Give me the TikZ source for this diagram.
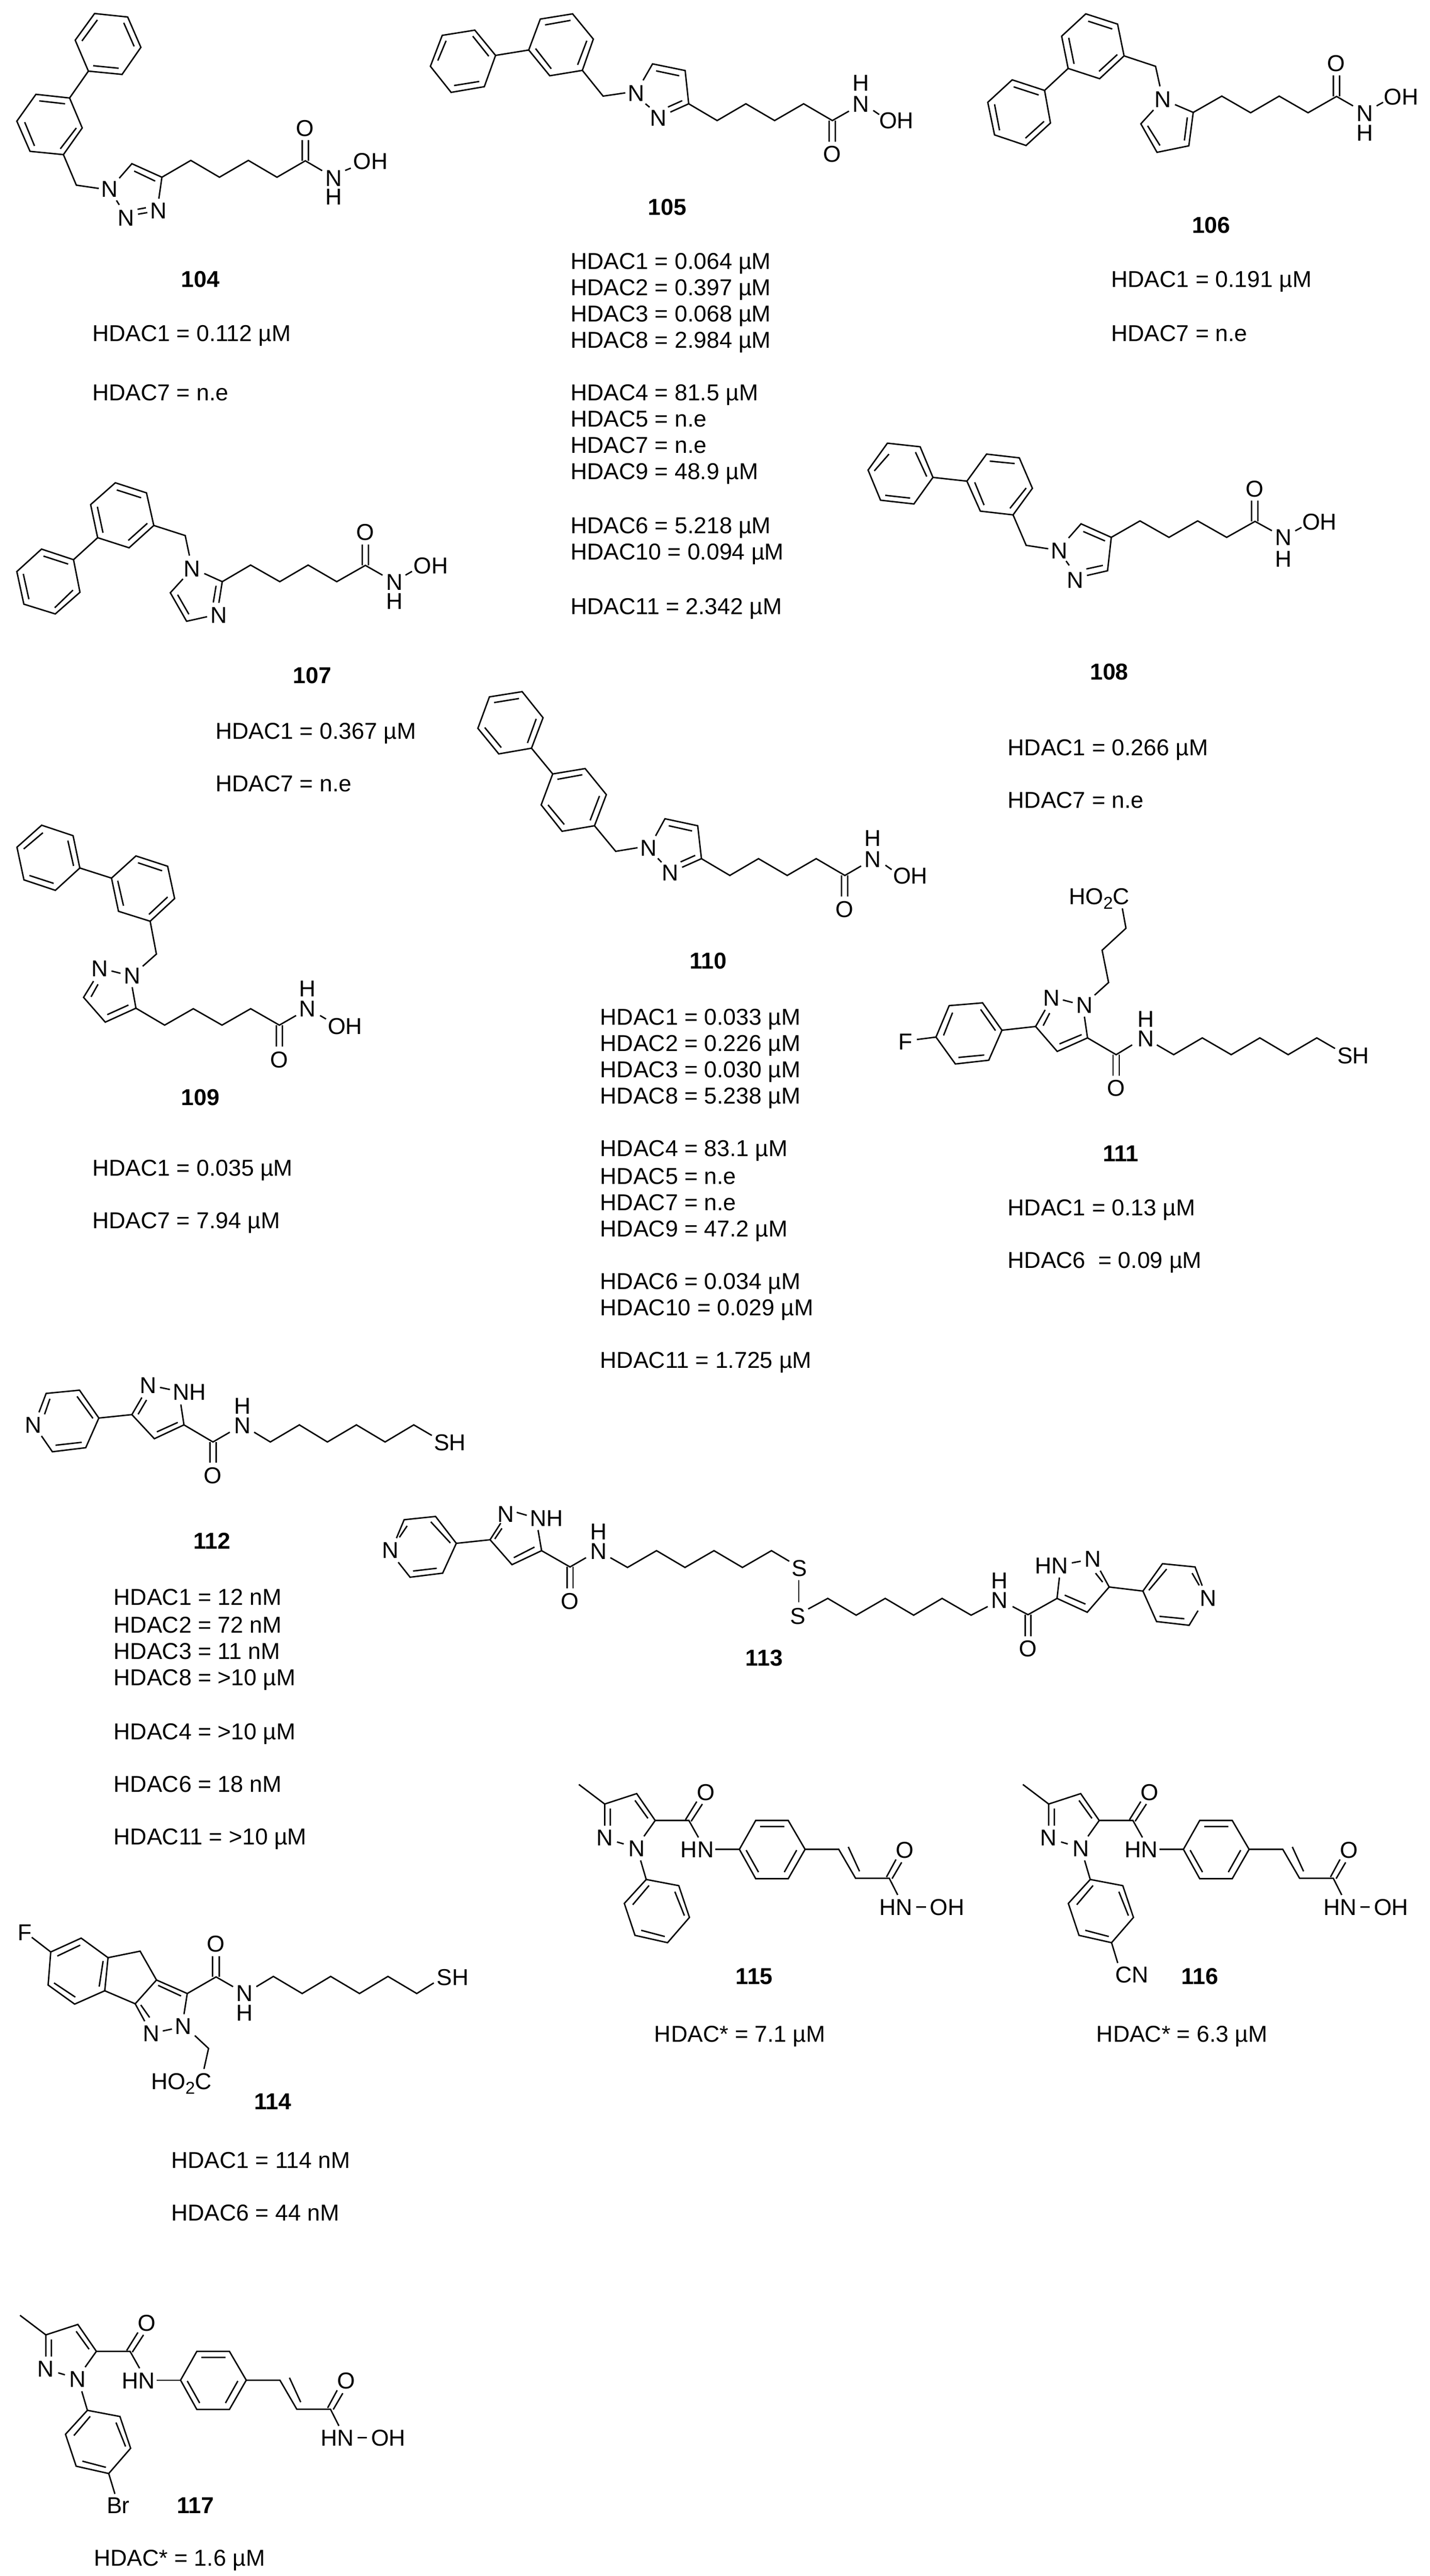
\documentclass[tikz,border=0pt]{standalone}
\usepackage{fontspec}
\setmainfont{Liberation Sans}
\tikzset{
  mol/.style n args={4}{shift={(#1pt,#2pt)},x=#3pt,y=#4pt},
  bond/.style={line width=.72pt,line join=miter,line cap=butt},
  lab/.style={inner sep=0pt,font=\fontsize{11.75}{14}\selectfont},
  txt/.style={inner sep=0pt,anchor=base west,font=\fontsize{11.75}{14}\selectfont},
  num/.style={inner sep=0pt,font=\fontsize{11.75}{14}\selectfont\bfseries}
}
\newcommand{\acid}{HO{\fontsize{8.8}{9}\selectfont\raisebox{-2.4pt}{2}}C}
\newcommand{\ttl}[4]{\node[txt] (#1) at (#2,#3+4.8) {#4};}
% 1-aryl-pyrazole cinnamyl hydroxamate fragment (compounds 115-117)
\newcommand{\cinnam}[1]{%
  \draw[bond] (47,152)--(93,272)--(150,208)--(183,373)--(163,470);
  \draw[bond] (147,250)--(170,360);
  \draw[bond] (93,272)--(93,405) (103,300)--(103,405) (115,505)--(127,517);
  \draw[bond] (183,373)--(243,373)--(260,477);
  \draw[bond] (237,368)--(257,257) (247,378)--(267,272);
  \draw[bond] (290,550)--(333,550);
  \draw[bond] (333,550)--(362,373)--(420,373)--(450,550)--(420,730)--(362,730)--cycle;
  \draw[bond] (370,410)--(413,410) (345,555)--(367,690) (435,555)--(413,690);
  \draw[bond] (450,550)--(510,550)--(540,728)--(600,728)--(615,830);
  \draw[bond] (527,535)--(547,685);
  \draw[bond] (595,720)--(612,612) (605,730)--(622,630);
  \draw[bond] (648,903)--(665,903);
  \draw[bond] (157,618)--(167,735);
  \draw[bond] (167,735)--(225,773)--(244,968)--(205,1123)--(147,1078)--(128,882)--cycle;
  \draw[bond] (172,772)--(143,890) (218,810)--(235,957) (200,1085)--(158,1047);
  \node[lab] (#1N2) at (93,480) {N};
  \node[lab] (#1N1) at (150,545) {N};
  \node[lab] (#1O1) at (273,200) {O};
  \node[lab] (#1HN1) at (258,553) {HN};
  \node[lab] (#1O2) at (628,555) {O};
  \node[lab] (#1HN2) at (612,905) {HN};
  \node[lab] (#1OH) at (703,905) {OH};
}
\begin{document}
\begin{tikzpicture}[x=1pt,y=1pt]
\useasboundingbox (0,0) rectangle (731pt,-1317.5pt);
\fill[white] (0,0) rectangle (731pt,-1317.5pt);

% ---------- 104
\begin{scope}[mol={0}{0}{.14349}{-.09885}]
\draw[bond] (337,70)--(455,88)--(502,245)--(435,385)--(315,368)--(268,208)--cycle;
\draw[bond] (347,103)--(292,212) (441,118)--(478,240) (423,353)--(332,340);
\draw[bond] (315,368)--(248,507);
\draw[bond] (248,507)--(293,662)--(226,800)--(107,783)--(60,627)--(128,488)--cycle;
\draw[bond] (232,537)--(140,522) (272,662)--(215,770) (88,632)--(123,755);
\draw[bond] (226,800)--(272,958)--(352,975);
\draw[bond] (425,922)--(470,847)--(577,917)--(566,1028);
\draw[bond] (478,885)--(553,937) (415,1037)--(425,1060);
\draw[bond] (490,1083)--(520,1075) (492,1108)--(525,1100);
\draw[bond] (577,917)--(680,830)--(782,917)--(885,830)--(987,917)--(1088,832)--(1148,883);
\draw[bond] (1077,832)--(1077,725) (1099,832)--(1099,725) (1230,882)--(1250,870);
\node[lab] (aN1) at (390,978) {N};
\node[lab] (aN2) at (450,1128) {N};
\node[lab] (aN3) at (565,1090) {N};
\node[lab] (aO) at (1087,665) {O};
\node[lab] (aN) at (1190,922) {N};
\node[lab] (aH) at (1190,1020) {H};
\node[lab] (aOH) at (1320,835) {OH};
\end{scope}

% ---------- 105
\begin{scope}[mol={212.5}{0}{.15147}{-.08333}]
\draw[bond] (200,185)--(270,340)--(232,532)--(120,567)--(50,407)--(90,217)--cycle;
\draw[bond] (193,222)--(247,345) (215,500)--(130,525) (75,372)--(103,250);
\draw[bond] (270,340)--(382,307);
\draw[bond] (382,307)--(453,465)--(563,432)--(600,240)--(530,85)--(421,117)--cycle;
\draw[bond] (405,298)--(458,422) (547,398)--(578,250) (437,153)--(523,125);
\draw[bond] (563,432)--(633,590)--(708,570);
\draw[bond] (768,493)--(800,392)--(910,433)--(922,637)--(860,688);
\draw[bond] (812,435)--(890,465) (900,618)--(852,657) (776,637)--(790,658);
\draw[bond] (922,637)--(1018,740)--(1115,637)--(1212,740)--(1310,637)--(1407,740)--(1463,682);
\draw[bond] (1396,740)--(1396,870) (1417,740)--(1417,870) (1545,678)--(1565,703);
\node[lab] (bN1) at (745,572) {N};
\node[lab] (bN2) at (820,725) {N};
\node[lab] (bO) at (1407,947) {O};
\node[lab] (bN) at (1503,640) {N};
\node[lab] (bH) at (1503,510) {H};
\node[lab] (bOH) at (1623,740) {OH};
\end{scope}

% ---------- 106
\begin{scope}[mol={495}{0}{.15051}{-.08333}]
\draw[bond] (150,490)--(260,555)--(280,755)--(197,893)--(90,828)--(67,628)--cycle;
\draw[bond] (155,533)--(240,583) (258,745)--(195,848) (107,800)--(90,640);
\draw[bond] (260,555)--(340,420);
\draw[bond] (340,420)--(447,483)--(530,343)--(508,148)--(400,85)--(318,222)--cycle;
\draw[bond] (445,438)--(507,335) (490,178)--(408,130) (342,232)--(360,392);
\draw[bond] (530,343)--(637,407)--(652,530);
\draw[bond] (703,642)--(765,690)--(750,895)--(642,935)--(587,760)--(630,675);
\draw[bond] (745,720)--(735,862) (652,893)--(610,772);
\draw[bond] (765,690)--(862,590)--(960,692)--(1057,590)--(1155,692)--(1252,592)--(1308,650);
\draw[bond] (1241,592)--(1241,463) (1262,592)--(1262,463) (1388,650)--(1410,628);
\node[lab] (cN1) at (662,610) {N};
\node[lab] (cO) at (1251,388) {O};
\node[lab] (cN) at (1348,695) {N};
\node[lab] (cH) at (1348,815) {H};
\node[lab] (cOH) at (1472,595) {OH};
\end{scope}

% ---------- 107
\begin{scope}[mol={0}{-237.5}{.14349}{-.08333}]
\draw[bond] (148,520)--(262,585)--(285,785)--(197,918)--(85,858)--(60,658)--cycle;
\draw[bond] (155,563)--(243,612) (260,772)--(195,880) (103,828)--(83,672);
\draw[bond] (262,585)--(348,450);
\draw[bond] (348,450)--(460,512)--(548,375)--(522,175)--(411,113)--(323,247)--cycle;
\draw[bond] (457,467)--(525,362) (503,205)--(416,157) (347,260)--(367,420);
\draw[bond] (548,375)--(660,437)--(675,560);
\draw[bond] (728,670)--(792,720)--(780,850) (770,745)--(760,848);
\draw[bond] (738,935)--(665,963)--(607,788)--(652,703) (673,920)--(633,800);
\draw[bond] (792,720)--(893,618)--(997,720)--(1098,618)--(1200,720)--(1302,620)--(1363,680);
\draw[bond] (1291,620)--(1291,492) (1313,620)--(1313,492) (1445,680)--(1468,657);
\node[lab] (dN1) at (685,640) {N};
\node[lab] (dN3) at (780,925) {N};
\node[lab] (dO) at (1302,417) {O};
\node[lab] (dN) at (1405,725) {N};
\node[lab] (dH) at (1405,840) {H};
\node[lab] (dOH) at (1535,622) {OH};
\end{scope}

% ---------- 108
\begin{scope}[mol={437.5}{-212.5}{.15944}{-.08333}]
\draw[bond] (102,170)--(207,192)--(248,380)--(187,543)--(80,520)--(40,335)--cycle;
\draw[bond] (192,225)--(228,375) (175,507)--(95,490) (60,340)--(107,237);
\draw[bond] (248,380)--(357,403);
\draw[bond] (357,403)--(400,587)--(505,610)--(567,447)--(525,260)--(420,237)--cycle;
\draw[bond] (382,410)--(412,550) (495,570)--(547,445) (510,295)--(430,280);
\draw[bond] (505,610)--(547,797)--(618,818);
\draw[bond] (683,752)--(723,665)--(820,748)--(808,953)--(742,982);
\draw[bond] (730,712)--(800,770) (793,920)--(740,942) (675,893)--(685,920);
\draw[bond] (820,748)--(912,647)--(1005,748)--(1097,647)--(1190,748)--(1281,650)--(1335,707);
\draw[bond] (1270,650)--(1270,522) (1290,650)--(1290,522) (1410,708)--(1430,687);
\node[lab] (eN1) at (653,830) {N};
\node[lab] (eN2) at (705,1012) {N};
\node[lab] (eO) at (1280,450) {O};
\node[lab] (eN) at (1372,750) {N};
\node[lab] (eH) at (1372,880) {H};
\node[lab] (eOH) at (1488,652) {OH};
\end{scope}

% ---------- 109
\begin{scope}[mol={0}{-412.5}{.12755}{-.08929}]
\draw[bond] (167,107)--(293,167)--(320,352)--(222,480)--(96,420)--(68,233)--cycle;
\draw[bond] (172,150)--(95,243) (272,195)--(295,340) (215,440)--(118,395);
\draw[bond] (320,352)--(447,410);
\draw[bond] (447,410)--(475,600)--(602,657)--(700,527)--(672,342)--(545,283)--cycle;
\draw[bond] (472,425)--(495,568) (597,618)--(672,518) (650,368)--(553,322);
\draw[bond] (602,657)--(627,845)--(572,915);
\draw[bond] (530,1035)--(545,1155)--(422,1235)--(335,1093)--(375,1000);
\draw[bond] (515,1137)--(430,1192) (365,1090)--(393,1018) (447,942)--(483,955);
\draw[bond] (545,1155)--(660,1252)--(775,1158)--(890,1252)--(1005,1158)--(1120,1252)--(1187,1197);
\draw[bond] (1108,1252)--(1108,1375) (1132,1252)--(1132,1375) (1283,1197)--(1307,1217);
\node[lab] (fN1) at (530,970) {N};
\node[lab] (fN2) at (400,930) {N};
\node[lab] (fO) at (1120,1450) {O};
\node[lab] (fN) at (1233,1160) {N};
\node[lab] (fH) at (1233,1045) {H};
\node[lab] (fOH) at (1383,1258) {OH};
\end{scope}

% ---------- 110
\begin{scope}[mol={237.5}{-345}{.15944}{-.08333}]
\draw[bond] (185,105)--(252,265)--(215,452)--(110,487)--(43,330)--(80,137)--cycle;
\draw[bond] (175,147)--(95,172) (230,272)--(202,420) (118,448)--(65,325);
\draw[bond] (215,452)--(283,610);
\draw[bond] (283,610)--(387,577)--(455,737)--(417,928)--(313,962)--(246,800)--cycle;
\draw[bond] (378,615)--(298,643) (433,745)--(403,895) (320,920)--(268,800);
\draw[bond] (417,928)--(485,1085)--(555,1063);
\draw[bond] (613,990)--(643,885)--(748,928)--(760,1130)--(698,1183);
\draw[bond] (655,928)--(730,960) (740,1110)--(693,1150) (620,1128)--(632,1152);
\draw[bond] (760,1130)--(851,1233)--(943,1130)--(1035,1233)--(1128,1130)--(1220,1233)--(1272,1175);
\draw[bond] (1209,1233)--(1209,1362) (1229,1233)--(1229,1362) (1350,1170)--(1370,1197);
\node[lab] (gN1) at (590,1065) {N};
\node[lab] (gN2) at (660,1218) {N};
\node[lab] (gO) at (1219,1442) {O};
\node[lab] (gN) at (1310,1135) {N};
\node[lab] (gH) at (1310,1005) {H};
\node[lab] (gOH) at (1430,1237) {OH};
\end{scope}

% ---------- 111
\begin{scope}[mol={487.5}{-442.5}{.14349}{-.08333}]
\draw[bond] (173,1013)--(104,845)--(-15,862)--(-62,1055)--(7,1220)--(126,1197)--cycle;
\draw[bond] (97,885)--(150,1015) (110,1165)--(18,1180) (-35,1045)--(-3,905);
\draw[bond] (-62,1055)--(-130,1070);
\draw[bond] (173,1013)--(293,990);
\draw[bond] (602,265)--(615,387)--(530,522)--(553,720)--(503,798);
\draw[bond] (467,930)--(478,1060)--(370,1143)--(293,990)--(327,888);
\draw[bond] (457,1040)--(378,1097) (320,985)--(343,908) (390,827)--(425,843);
\draw[bond] (478,1060)--(580,1163)--(637,1103);
\draw[bond] (569,1163)--(569,1291) (591,1163)--(591,1291);
\draw[bond] (725,1103)--(785,1163)--(887,1060)--(990,1163)--(1092,1060)--(1193,1163)--(1295,1060)--(1360,1125);
\node[lab,anchor=base west] (hAcid) at (410,240) {\acid};
\node[lab] (hN1) at (467,860) {N};
\node[lab] (hN2) at (350,815) {N};
\node[lab] (hN) at (685,1065) {N};
\node[lab] (hH) at (685,945) {H};
\node[lab] (hO) at (580,1368) {O};
\node[lab] (hSH) at (1425,1170) {SH};
\node[lab] (hF) at (-171,1083) {F};
\end{scope}

% ---------- 112
\begin{scope}[mol={0}{-690}{.15944}{-.08333}]
\draw[bond] (125,388)--(148,272)--(255,252)--(317,423)--(275,605)--(168,630)--(133,533);
\draw[bond] (298,425)--(247,290) (262,572)--(178,590) (143,400)--(160,305);
\draw[bond] (317,423)--(423,402);
\draw[bond] (455,297)--(423,402)--(495,550)--(590,465)--(580,340);
\draw[bond] (503,508)--(570,450) (443,400)--(470,312) (513,235)--(545,248);
\draw[bond] (590,465)--(683,570)--(737,510);
\draw[bond] (673,570)--(673,698) (693,570)--(693,698);
\draw[bond] (815,510)--(867,570)--(960,465)--(1050,570)--(1143,465)--(1235,570)--(1327,465)--(1385,530);
\node[lab] (iNp) at (107,465) {N};
\node[lab] (iN2) at (476,222) {N};
\node[lab] (iNH) at (607,265) {NH};
\node[lab] (iN) at (777,470) {N};
\node[lab] (iH) at (777,350) {H};
\node[lab] (iO) at (683,775) {O};
\node[lab] (iSH) at (1443,575) {SH};
\end{scope}

% ---------- 113
\begin{scope}[mol={190}{-772.5}{.30293}{-.08333}]
\draw[bond] (42,170)--(55,57)--(108,37)--(143,202)--(120,385)--(65,410)--(45,318);
\draw[bond] (133,200)--(100,70) (110,355)--(70,372) (47,165)--(60,95);
\draw[bond] (143,202)--(200,180);
\draw[bond] (218,78)--(200,180)--(237,333)--(287,247)--(281,120);
\draw[bond] (240,290)--(275,225) (208,175)--(220,110) (245,12)--(262,30);
\draw[bond] (287,247)--(335,347)--(362,290);
\draw[bond] (330,347)--(330,478) (340,347)--(340,478);
\draw[bond] (403,290)--(432,350)--(481,247)--(529,350)--(578,247)--(626,350)--(675,247)--(705,312);
\draw[bond] (721,428)--(721,565);
\draw[bond] (737,605)--(770,540)--(818,643)--(867,540)--(915,643)--(963,540)--(1012,643)--(1040,590);
\draw[bond] (1082,590)--(1108,640)--(1157,540)--(1161,412);
\draw[bond] (1103,640)--(1103,772) (1113,640)--(1113,772);
\draw[bond] (1157,540)--(1208,625)--(1245,470)--(1230,370);
\draw[bond] (1170,520)--(1205,575) (1234,440)--(1222,385) (1182,322)--(1197,312);
\draw[bond] (1245,470)--(1302,495);
\draw[bond] (1402,462)--(1390,347)--(1335,327)--(1302,495)--(1325,682)--(1380,705)--(1395,615);
\draw[bond] (1312,490)--(1342,360) (1385,385)--(1397,460) (1330,650)--(1372,665);
\node[lab] (jNp) at (32,245) {N};
\node[lab] (jN2) at (227,25) {N};
\node[lab] (jNH) at (295,50) {NH};
\node[lab] (jN) at (383,250) {N};
\node[lab] (jH) at (383,130) {H};
\node[lab] (jO) at (335,557) {O};
\node[lab] (jS1) at (722,357) {S};
\node[lab] (jS2) at (720,650) {S};
\node[lab] (jNb) at (1060,550) {N};
\node[lab] (jHb) at (1060,430) {H};
\node[lab] (jOb) at (1108,850) {O};
\node[lab] (jHN) at (1148,340) {HN};
\node[lab] (jN2b) at (1217,298) {N};
\node[lab] (jNq) at (1412,540) {N};
\end{scope}

% ---------- 114
\begin{scope}[mol={0}{-970}{.16741}{-.08333}]
\draw[bond] (97,250)--(155,340);
\draw[bond] (155,340)--(248,255)--(330,375)--(320,578)--(228,660)--(147,543)--cycle;
\draw[bond] (175,365)--(245,298) (315,395)--(303,552) (230,617)--(165,530);
\draw[bond] (330,375)--(428,335)--(478,512)--(413,658)--(320,578);
\draw[bond] (478,512)--(572,595)--(562,722);
\draw[bond] (483,545)--(553,610) (413,658)--(442,765) (430,665)--(457,742) (497,825)--(525,813);
\draw[bond] (572,595)--(660,493)--(712,553);
\draw[bond] (649,493)--(649,367) (670,493)--(670,367);
\draw[bond] (783,553)--(835,490)--(923,595)--(1010,490)--(1098,595)--(1185,490)--(1273,595)--(1325,530);
\draw[bond] (595,853)--(637,932)--(623,1058);
\node[lab] (kF) at (75,222) {F};
\node[lab] (kN1) at (560,795) {N};
\node[lab] (kN2) at (462,840) {N};
\node[lab] (kO) at (660,292) {O};
\node[lab] (kN) at (747,595) {N};
\node[lab] (kH) at (747,715) {H};
\node[lab] (kSH) at (1383,497) {SH};
\node[lab,anchor=base west] (kAcid) at (460,1183) {\acid};
\end{scope}

% ---------- 115
\begin{scope}[mol={282.5}{-900}{.28703}{-.08333}]
\cinnam{m}
\end{scope}

% ---------- 116
\begin{scope}[mol={509.54}{-900}{.28703}{-.08333}]
\cinnam{n}
\draw[bond] (205,1123)--(216,1248);
\node[lab] (nCN) at (241,1320) {CN};
\end{scope}

% ---------- 117
\begin{scope}[mol={-3.25}{-1171.5}{.28703}{-.08333}]
\cinnam{p}
\draw[bond] (205,1123)--(216,1248);
\node[lab] (pBr) at (222,1320) {Br};
\end{scope}

% ---------- compound numbers and activity lines (in units of the small view)
\begin{scope}[x=.8403pt,y=-.8403pt]
\node[num] (n104) at (122,170) {104};
\node[num] (n105) at (406,126) {105};
\node[num] (n106) at (737,137) {106};
\node[num] (n107) at (190,411) {107};
\node[num] (n108) at (675,409) {108};
\node[num] (n109) at (122,668) {109};
\node[num] (n110) at (431,585) {110};
\node[num] (n111) at (682,702) {111};
\node[num] (n112) at (129,938) {112};
\node[num] (n113) at (465,1009) {113};
\node[num] (n114) at (166,1279) {114};
\node[num] (n115) at (459,1203) {115};
\node[num] (n116) at (730,1203) {116};
\node[num] (n117) at (119,1525) {117};
\ttl{a1}{56}{203}{HDAC1 = 0.112 µM}
\ttl{a2}{56}{239}{HDAC7 = n.e}
\ttl{b1}{347}{159}{HDAC1 = 0.064 µM}
\ttl{b2}{347}{175}{HDAC2 = 0.397 µM}
\ttl{b3}{347}{191}{HDAC3 = 0.068 µM}
\ttl{b4}{347}{207}{HDAC8 = 2.984 µM}
\ttl{b5}{347}{239}{HDAC4 = 81.5 µM}
\ttl{b6}{347}{255}{HDAC5 = n.e}
\ttl{b7}{347}{271}{HDAC7 = n.e}
\ttl{b8}{347}{287}{HDAC9 = 48.9 µM}
\ttl{b9}{347}{320}{HDAC6 = 5.218 µM}
\ttl{b10}{347}{336}{HDAC10 = 0.094 µM}
\ttl{b11}{347}{369}{HDAC11 = 2.342 µM}
\ttl{c1}{676}{170}{HDAC1 = 0.191 µM}
\ttl{c2}{676}{203}{HDAC7 = n.e}
\ttl{d1}{131}{445}{HDAC1 = 0.367 µM}
\ttl{d2}{131}{477}{HDAC7 = n.e}
\ttl{e1}{613}{455}{HDAC1 = 0.266 µM}
\ttl{e2}{613}{487}{HDAC7 = n.e}
\ttl{f1}{56}{711}{HDAC1 = 0.035 µM}
\ttl{f2}{56}{743}{HDAC7 = 7.94 µM}
\ttl{g1}{365}{619}{HDAC1 = 0.033 µM}
\ttl{g2}{365}{635}{HDAC2 = 0.226 µM}
\ttl{g3}{365}{651}{HDAC3 = 0.030 µM}
\ttl{g4}{365}{667}{HDAC8 = 5.238 µM}
\ttl{g5}{365}{699}{HDAC4 = 83.1 µM}
\ttl{g6}{365}{716}{HDAC5 = n.e}
\ttl{g7}{365}{732}{HDAC7 = n.e}
\ttl{g8}{365}{748}{HDAC9 = 47.2 µM}
\ttl{g9}{365}{780}{HDAC6 = 0.034 µM}
\ttl{g10}{365}{796}{HDAC10 = 0.029 µM}
\ttl{g11}{365}{828}{HDAC11 = 1.725 µM}
\ttl{h1}{613}{735}{HDAC1 = 0.13 µM}
\ttl{h2}{613}{767}{HDAC6 \ = 0.09 µM}
\ttl{i1}{69}{972}{HDAC1 = 12 nM}
\ttl{i2}{69}{989}{HDAC2 = 72 nM}
\ttl{i3}{69}{1005}{HDAC3 = 11 nM}
\ttl{i4}{69}{1021}{HDAC8 = >10 µM}
\ttl{i5}{69}{1054}{HDAC4 = >10 µM}
\ttl{i6}{69}{1086}{HDAC6 = 18 nM}
\ttl{i7}{69}{1118}{HDAC11 = >10 µM}
\ttl{k1}{104}{1315}{HDAC1 = 114 nM}
\ttl{k2}{104}{1347}{HDAC6 = 44 nM}
\ttl{m1}{398}{1238}{HDAC* = 7.1 µM}
\ttl{n1}{667}{1238}{HDAC* = 6.3 µM}
\ttl{p1}{57}{1557}{HDAC* = 1.6 µM}
\end{scope}
\end{tikzpicture}
\end{document}
